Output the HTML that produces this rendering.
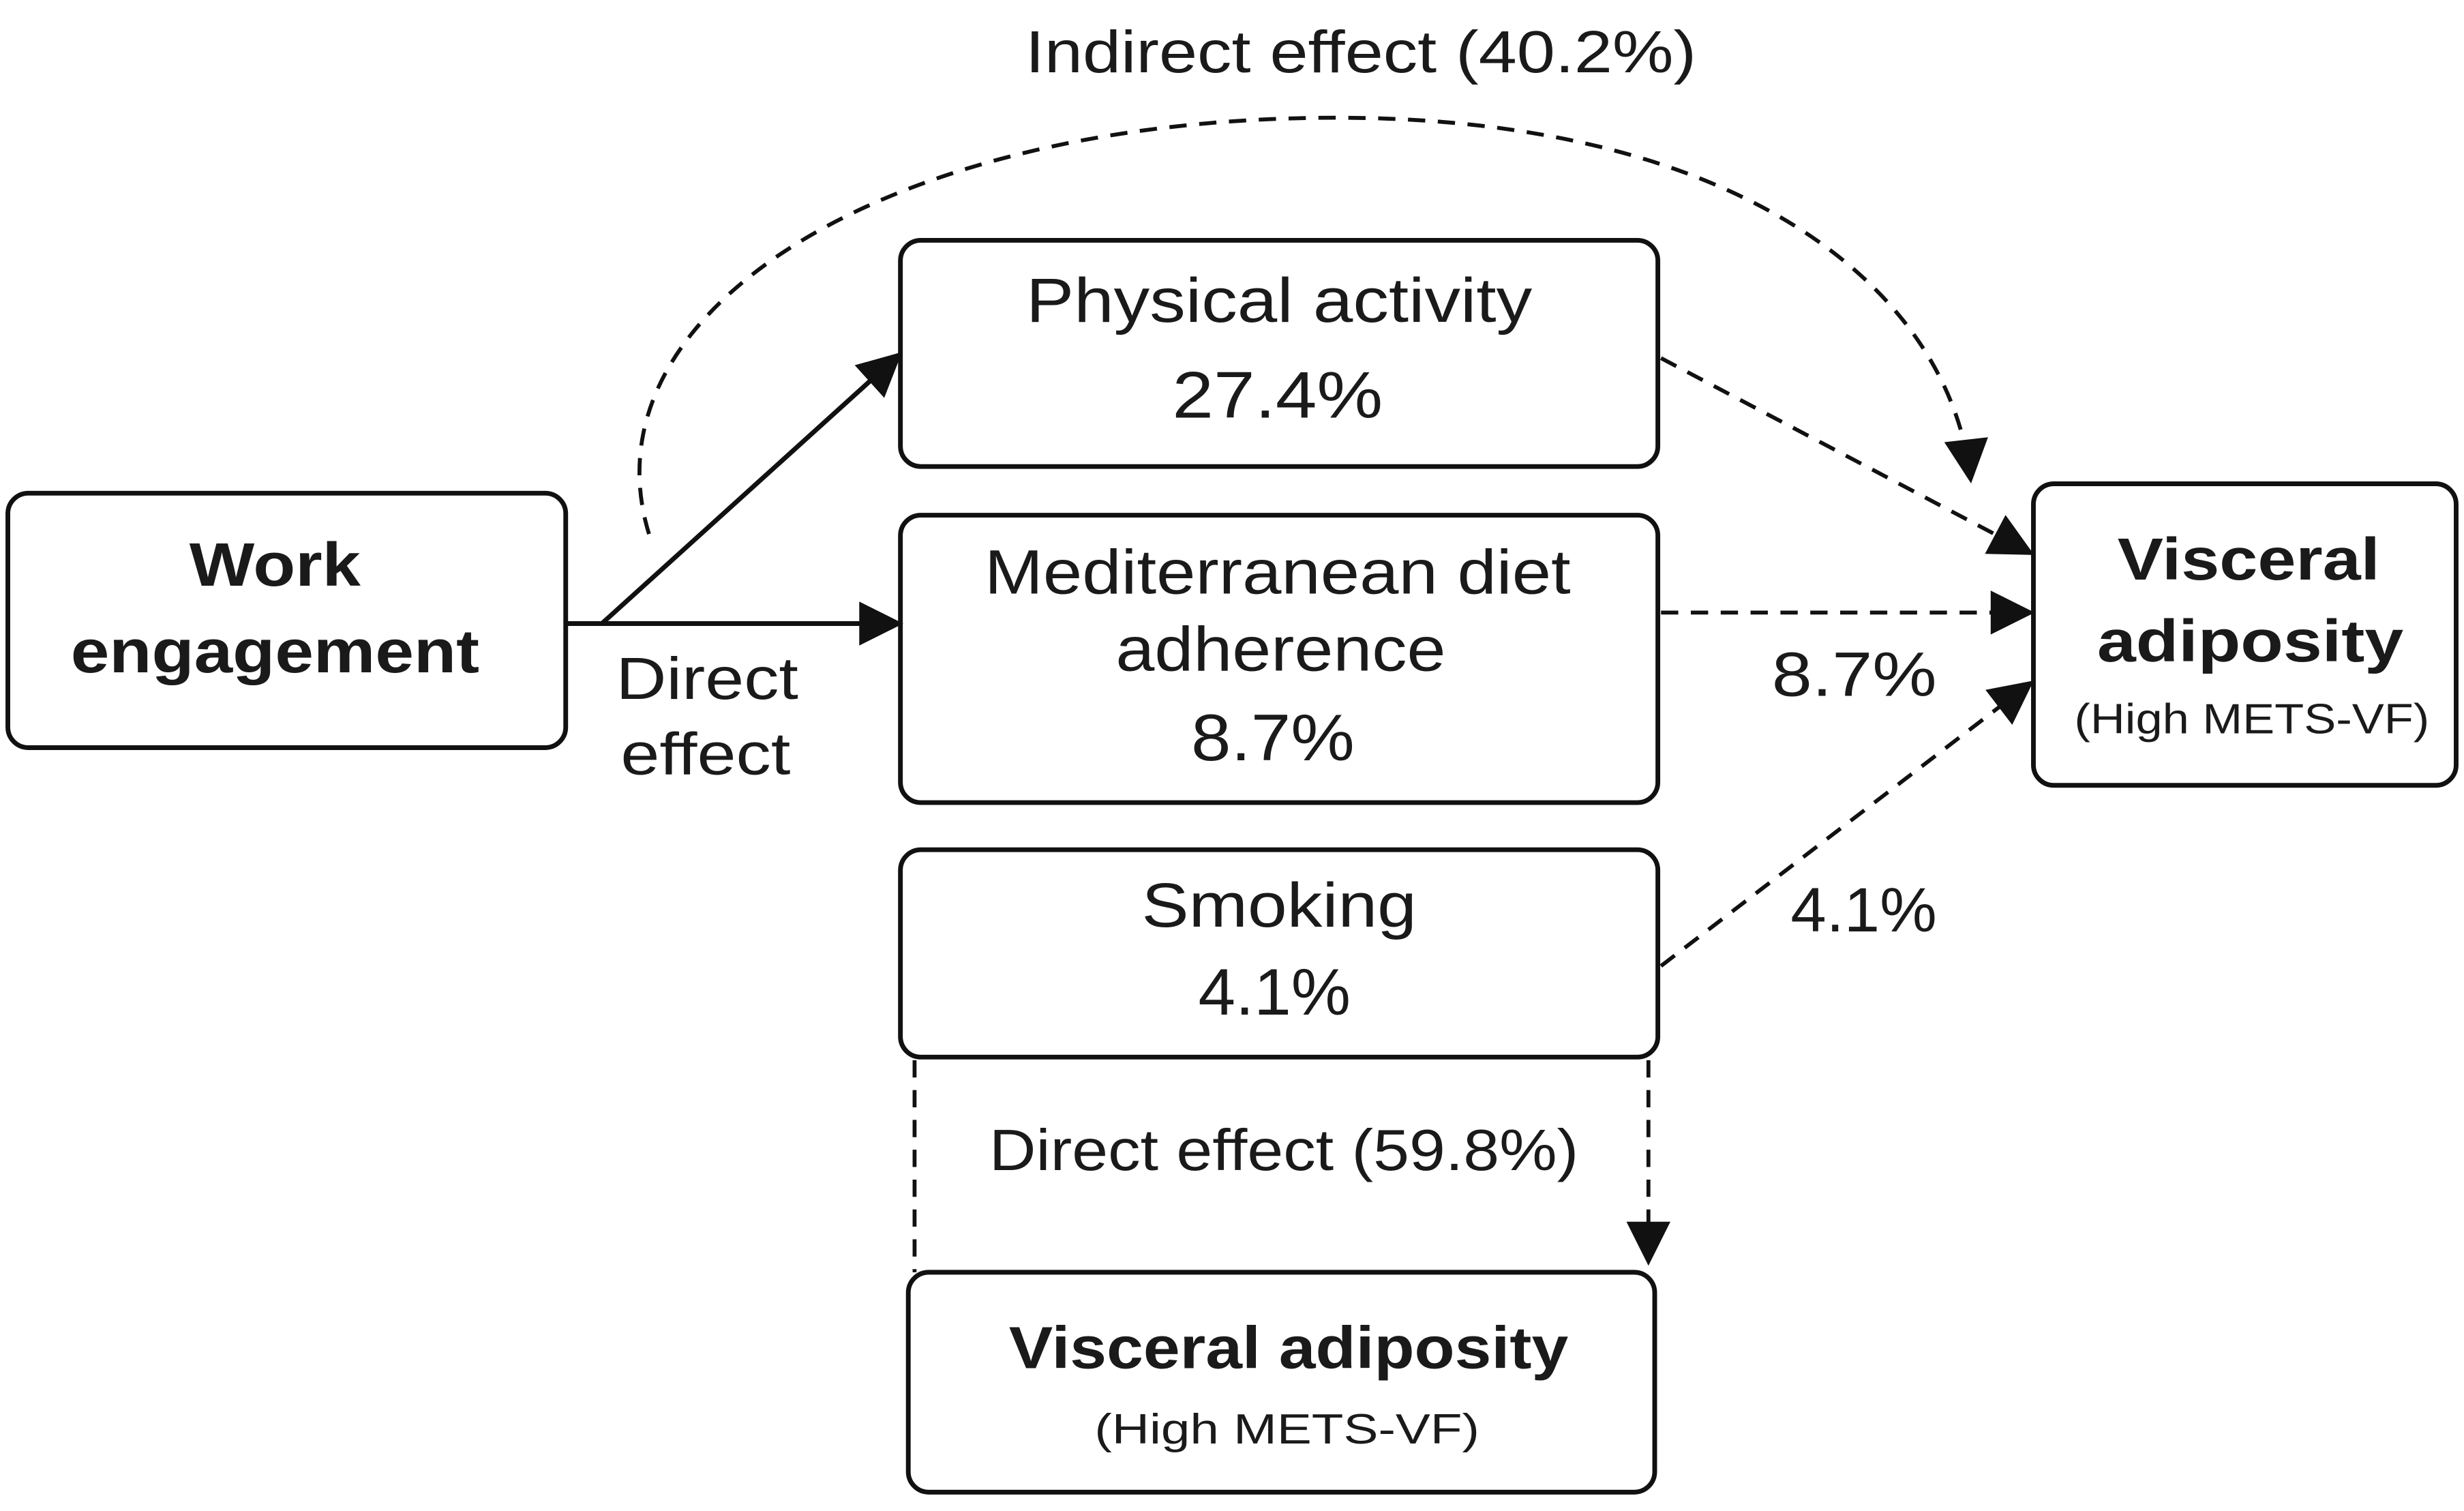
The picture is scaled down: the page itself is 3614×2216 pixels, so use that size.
<!DOCTYPE html>
<html><head><meta charset="utf-8"><style>
html,body{margin:0;padding:0;background:#fff;}
svg{display:block;}
text{font-family:"Liberation Sans",sans-serif;fill:#1a1a1a;}
</style></head><body>
<svg width="3614" height="2216" viewBox="0 0 1568 962" preserveAspectRatio="none">
<defs>
<marker id="ahL" viewBox="0 0 10 10" refX="9" refY="5" markerWidth="32" markerHeight="28" markerUnits="userSpaceOnUse" orient="auto">
<path d="M0,0 L10,5 L0,10 z" fill="#111"/></marker>
</defs>
<g fill="none" stroke="#111" stroke-width="3">
<rect x="5" y="314" width="355" height="162" rx="13"/>
<rect x="573" y="153" width="482" height="144" rx="13"/>
<rect x="573" y="328" width="482" height="183" rx="13"/>
<rect x="573" y="541" width="482" height="132" rx="13"/>
<rect x="1294" y="308" width="269" height="192" rx="13"/>
<rect x="578" y="810" width="475" height="140" rx="13"/>
</g>
<g stroke="#111" stroke-width="3" fill="none">
<line x1="383" y1="397" x2="572" y2="226" marker-end="url(#ahL)"/>
<line x1="360" y1="397" x2="572" y2="397" marker-end="url(#ahL)"/>
</g>
<g stroke="#111" stroke-width="2.5" fill="none" stroke-dasharray="11,8">
<path d="M413,340 C370,200 560,78 840,75 C1100,72 1240,180 1254,305" marker-end="url(#ahL)"/>
<line x1="1057" y1="228" x2="1292" y2="352" marker-end="url(#ahL)"/>
<line x1="1057" y1="390" x2="1292" y2="390" marker-end="url(#ahL)"/>
<line x1="1057" y1="615" x2="1292" y2="435" marker-end="url(#ahL)"/>
<line x1="582" y1="675" x2="582" y2="810"/>
<line x1="1049" y1="675" x2="1049" y2="803" marker-end="url(#ahL)"/>
</g>
<g text-anchor="middle" lengthAdjust="spacingAndGlyphs">
<text x="866" y="46" font-size="38" textLength="427" lengthAdjust="spacingAndGlyphs">Indirect effect (40.2%)</text>
<text x="175" y="373" font-size="39" font-weight="bold" textLength="109" lengthAdjust="spacingAndGlyphs">Work</text>
<text x="175" y="428" font-size="39" font-weight="bold" textLength="260" lengthAdjust="spacingAndGlyphs">engagement</text>
<text x="814" y="205" font-size="40" textLength="322" lengthAdjust="spacingAndGlyphs">Physical activity</text>
<text x="813" y="266" font-size="42" textLength="134" lengthAdjust="spacingAndGlyphs">27.4%</text>
<text x="813" y="378" font-size="40" textLength="373" lengthAdjust="spacingAndGlyphs">Mediterranean diet</text>
<text x="815" y="427" font-size="40" textLength="210" lengthAdjust="spacingAndGlyphs">adherence</text>
<text x="810" y="484" font-size="42" textLength="104" lengthAdjust="spacingAndGlyphs">8.7%</text>
<text x="814" y="590" font-size="40" textLength="175" lengthAdjust="spacingAndGlyphs">Smoking</text>
<text x="811" y="646" font-size="42" textLength="97" lengthAdjust="spacingAndGlyphs">4.1%</text>
<text x="450" y="445" font-size="38" textLength="116" lengthAdjust="spacingAndGlyphs">Direct</text>
<text x="449" y="493" font-size="38" textLength="108" lengthAdjust="spacingAndGlyphs">effect</text>
<text x="1180" y="443" font-size="40" textLength="105" lengthAdjust="spacingAndGlyphs">8.7%</text>
<text x="1186" y="593" font-size="40" textLength="93" lengthAdjust="spacingAndGlyphs">4.1%</text>
<text x="1431" y="369" font-size="38" font-weight="bold" textLength="167" lengthAdjust="spacingAndGlyphs">Visceral</text>
<text x="1432" y="421" font-size="38" font-weight="bold" textLength="195" lengthAdjust="spacingAndGlyphs">adiposity</text>
<text x="1433" y="467" font-size="27" textLength="226" lengthAdjust="spacingAndGlyphs">(High METS-VF)</text>
<text x="817" y="745" font-size="37" textLength="375" lengthAdjust="spacingAndGlyphs">Direct effect (59.8%)</text>
<text x="820" y="871" font-size="38" font-weight="bold" textLength="356" lengthAdjust="spacingAndGlyphs">Visceral adiposity</text>
<text x="819" y="919" font-size="27" textLength="245" lengthAdjust="spacingAndGlyphs">(High METS-VF)</text>
</g>
</svg>
</body></html>
